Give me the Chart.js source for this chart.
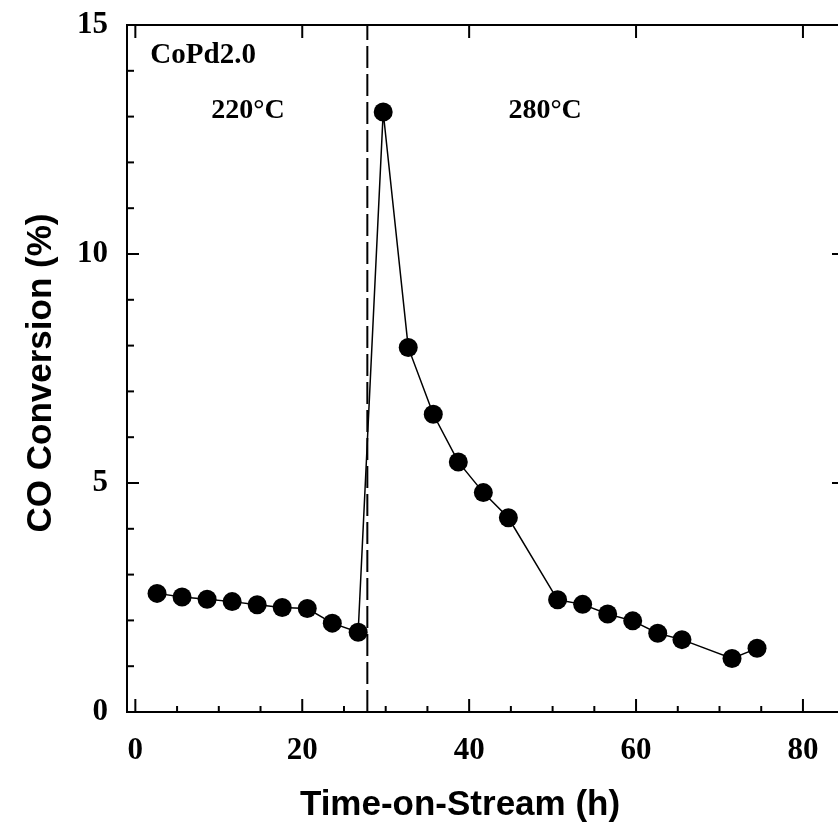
<!DOCTYPE html>
<html>
<head>
<meta charset="utf-8">
<script src="https://cdn.jsdelivr.net/npm/chart.js@4.4.1/dist/chart.umd.min.js"></script>
<style>
  html, body { margin: 0; padding: 0; background: #fff; }
  #wrap { width: 838px; height: 834px; }
</style>
</head>
<body>
<div id="wrap"><canvas id="chart" width="838" height="834"></canvas></div>
<script>
// Time-on-stream (h) and CO conversion (%)
const timeOnStream = [2.6, 5.6, 8.6, 11.6, 14.6, 17.6, 20.6, 23.6, 26.7, 29.7, 32.7, 35.7, 38.7, 41.7, 44.7, 50.6, 53.6, 56.6, 59.6, 62.6, 65.5, 71.5, 74.5];
const coConversion = [2.59, 2.51, 2.46, 2.41, 2.34, 2.28, 2.26, 1.94, 1.74, 13.1, 7.96, 6.50, 5.46, 4.79, 4.24, 2.45, 2.35, 2.14, 1.99, 1.72, 1.58, 1.17, 1.39];

const xTicks = [0, 20, 40, 60, 80];
const yTicks = [0, 5, 10, 15];
const xMinorTicks = [5, 10, 15, 25, 30, 35, 45, 50, 55, 65, 70, 75];
const yMinorTicks = [1, 2, 3, 4, 6, 7, 8, 9, 11, 12, 13, 14];

// temperature switch
const switchTime = [27.8];

const serif = '"Liberation Serif", "Times New Roman", serif';
const sans = '"Liberation Sans", Arial, sans-serif';

const points = timeOnStream.map((t, i) => ({ x: t, y: coConversion[i] }));

// frame, inward ticks, dashed line, labels and axis titles
const framePlugin = {
    id: 'frame',
    beforeDatasetsDraw(chart) {
        const { ctx, chartArea: a, scales: { x } } = chart;
        ctx.save();
        // dashed switch line
        ctx.strokeStyle = '#000';
        ctx.lineWidth = 2;
        ctx.setLineDash([22, 6]);
        switchTime.forEach(t => {
            const px = x.getPixelForValue(t);
            ctx.beginPath();
            ctx.moveTo(px, a.bottom);
            ctx.lineTo(px, a.top);
            ctx.stroke();
        });
        ctx.restore();
    },
    afterDraw(chart) {
        const { ctx, chartArea: a, scales: { x, y } } = chart;
        ctx.save();
        ctx.strokeStyle = '#000';
        ctx.lineWidth = 2;

        // axes box (right side falls at the canvas edge)
        ctx.beginPath();
        ctx.moveTo(a.right, a.top);
        ctx.lineTo(a.left, a.top);
        ctx.lineTo(a.left, a.bottom);
        ctx.lineTo(a.right, a.bottom);
        ctx.stroke();

        // x ticks
        xTicks.forEach(v => {
            const px = x.getPixelForValue(v);
            ctx.beginPath();
            ctx.moveTo(px, a.bottom); ctx.lineTo(px, a.bottom - 13);
            ctx.moveTo(px, a.top); ctx.lineTo(px, a.top + 13);
            ctx.stroke();
        });
        xMinorTicks.forEach(v => {
            const px = x.getPixelForValue(v);
            ctx.beginPath();
            ctx.moveTo(px, a.bottom); ctx.lineTo(px, a.bottom - 6);
            ctx.stroke();
        });

        // y ticks
        yTicks.forEach(v => {
            const py = y.getPixelForValue(v);
            ctx.beginPath();
            ctx.moveTo(a.left, py); ctx.lineTo(a.left + 12, py);
            ctx.moveTo(a.right, py); ctx.lineTo(a.right - 6, py);
            ctx.stroke();
        });
        yMinorTicks.forEach(v => {
            const py = y.getPixelForValue(v);
            ctx.beginPath();
            ctx.moveTo(a.left, py); ctx.lineTo(a.left + 7, py);
            ctx.stroke();
        });

        // annotations
        ctx.fillStyle = '#000';
        ctx.textBaseline = 'middle';
        ctx.textAlign = 'left';
        ctx.font = 'bold 29px ' + serif;
        ctx.fillText('CoPd2.0', x.getPixelForValue(1.8), y.getPixelForValue(14.34));
        ctx.textAlign = 'center';
        ctx.font = 'bold 28px ' + serif;
        ctx.fillText('220°C', x.getPixelForValue(13.5), y.getPixelForValue(13.12));
        ctx.fillText('280°C', x.getPixelForValue(49.1), y.getPixelForValue(13.12));

        // axis titles
        ctx.font = 'bold 35px ' + sans;
        ctx.fillText('Time-on-Stream (h)', 460, 805);

        ctx.save();
        ctx.translate(41, 373);
        ctx.rotate(-Math.PI / 2);
        ctx.fillText('CO Conversion (%)', 0, 0);
        ctx.restore();

        ctx.restore();
    }
};

new Chart(document.getElementById('chart'), {
    type: 'scatter',
    data: {
        datasets: [{
            data: points,
            showLine: true,
            borderColor: '#000',
            borderWidth: 1.5,
            backgroundColor: '#000',
            pointRadius: 9.5,
            pointBorderWidth: 0,
            tension: 0
        }]
    },
    options: {
        responsive: false,
        animation: false,
        layout: { autoPadding: false, padding: { top: 25, right: 0, left: 0, bottom: 0 } },
        plugins: {
            legend: { display: false },
            tooltip: { enabled: false }
        },
        scales: {
            x: {
                type: 'linear',
                min: -1,
                max: 84.2,
                grid: { display: false, drawTicks: false },
                border: { display: false },
                afterBuildTicks: scale => { scale.ticks = xTicks.map(v => ({ value: v })); },
                afterFit: scale => {
                    scale.height = 122;
                    scale.paddingLeft = 0;
                    scale.paddingRight = 0;
                },
                ticks: {
                    padding: 20,
                    color: '#000',
                    font: { family: serif, size: 31, weight: 'bold' }
                }
            },
            y: {
                min: 0,
                max: 15,
                grid: { display: false, drawTicks: false },
                border: { display: false },
                afterBuildTicks: scale => { scale.ticks = yTicks.map(v => ({ value: v })); },
                afterFit: scale => {
                    scale.width = 127;
                    scale.paddingTop = 0;
                    scale.paddingBottom = 0;
                },
                ticks: {
                    padding: 19,
                    color: '#000',
                    font: { family: serif, size: 31, weight: 'bold' }
                }
            }
        }
    },
    plugins: [framePlugin]
});
</script>
</body>
</html>
